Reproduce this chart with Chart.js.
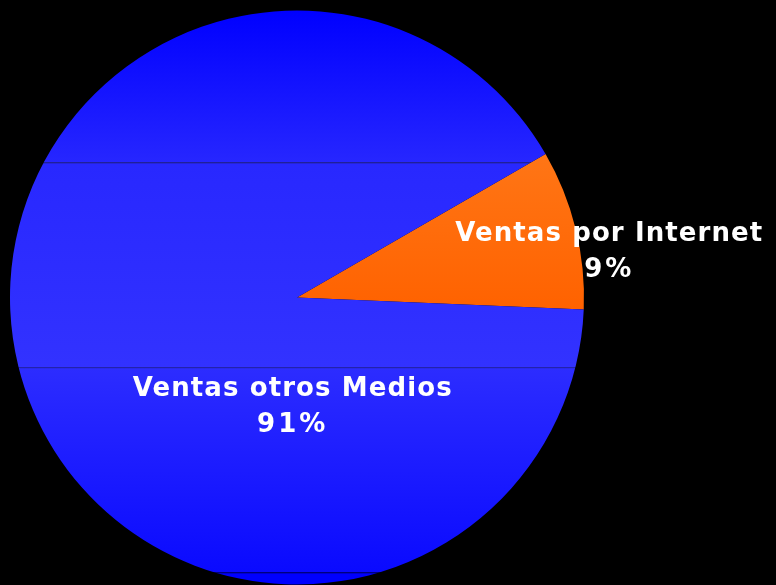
<!DOCTYPE html>
<html>
<head>
    <meta charset="UTF-8" />
    <title>Ventas</title>
    <script src="https://cdn.jsdelivr.net/npm/chart.js@4/dist/chart.umd.min.js"></script>
    <style>
        html, body { margin: 0; padding: 0; background: #000; }
        #wrap { width: 776px; height: 585px; position: relative; }
    </style>
</head>
<body>
    <div id="wrap"><canvas id="chart"></canvas></div>

    <script>
        // data
        const labels = ['Ventas por Internet', 'Ventas otros Medios'];
        const values = [9, 91];
        const percentLabels = ['9%', '91%'];

        function blueFill(chart) {
            const area = chart.chartArea;
            if (!area) return '#2a2aff';
            const g = chart.ctx.createLinearGradient(0, area.top, 0, area.bottom);
            // banded gradient with faint seams, like the original
            g.addColorStop(0.00, '#0000ff');
            g.addColorStop(0.264, '#2626ff');
            g.addColorStop(0.265, '#202090');
            g.addColorStop(0.268, '#2828ff');
            g.addColorStop(0.62, '#3232ff');
            g.addColorStop(0.621, '#202090');
            g.addColorStop(0.624, '#2c2cff');
            g.addColorStop(0.977, '#0a0aff');
            g.addColorStop(0.978, '#000070');
            g.addColorStop(0.981, '#0000ff');
            g.addColorStop(1.00, '#0000ff');
            return g;
        }

        function orangeFill(chart) {
            const area = chart.chartArea;
            if (!area) return '#ff6a10';
            const g = chart.ctx.createLinearGradient(0, area.top + 140, 0, area.top + 300);
            g.addColorStop(0, '#ff7616');
            g.addColorStop(1, '#ff6200');
            return g;
        }

        // text labels drawn on top of the slices
        const sliceText = {
            id: 'sliceText',
            afterDatasetsDraw(chart) {
                const ctx = chart.ctx;
                const arc = chart.getDatasetMeta(0).data[0];
                const cx = arc.x, cy = arc.y, r = arc.outerRadius;
                const spots = [
                    { x: cx + r * 1.088, y: cy - r * 0.22 },
                    { x: cx - r * 0.015, y: cy + r * 0.32 }
                ];
                ctx.save();
                ctx.fillStyle = '#ffffff';
                ctx.font = 'bold 26px "DejaVu Sans", Verdana, sans-serif';
                ctx.textAlign = 'center';
                ctx.textBaseline = 'middle';
                labels.forEach((l, i) => {
                    ctx.letterSpacing = '1.1px';
                    ctx.fillText(l, spots[i].x, spots[i].y);
                    ctx.letterSpacing = '3px';
                    ctx.fillText(percentLabels[i], spots[i].x, spots[i].y + 36);
                });
                ctx.restore();
            }
        };

        new Chart('chart', {
            type: 'pie',
            data: {
                labels: labels,
                datasets: [{
                    data: values,
                    backgroundColor: (c) => c.dataIndex === 0 ? orangeFill(c.chart) : blueFill(c.chart),
                    borderWidth: 0
                }]
            },
            plugins: [sliceText],
            options: {
                responsive: true,
                maintainAspectRatio: false,
                animation: false,
                rotation: 60,
                layout: { padding: { left: 10, right: 192, top: 10, bottom: 0 } },
                plugins: {
                    legend: { display: false },
                    tooltip: { enabled: false }
                }
            }
        });
    </script>
</body>
</html>
